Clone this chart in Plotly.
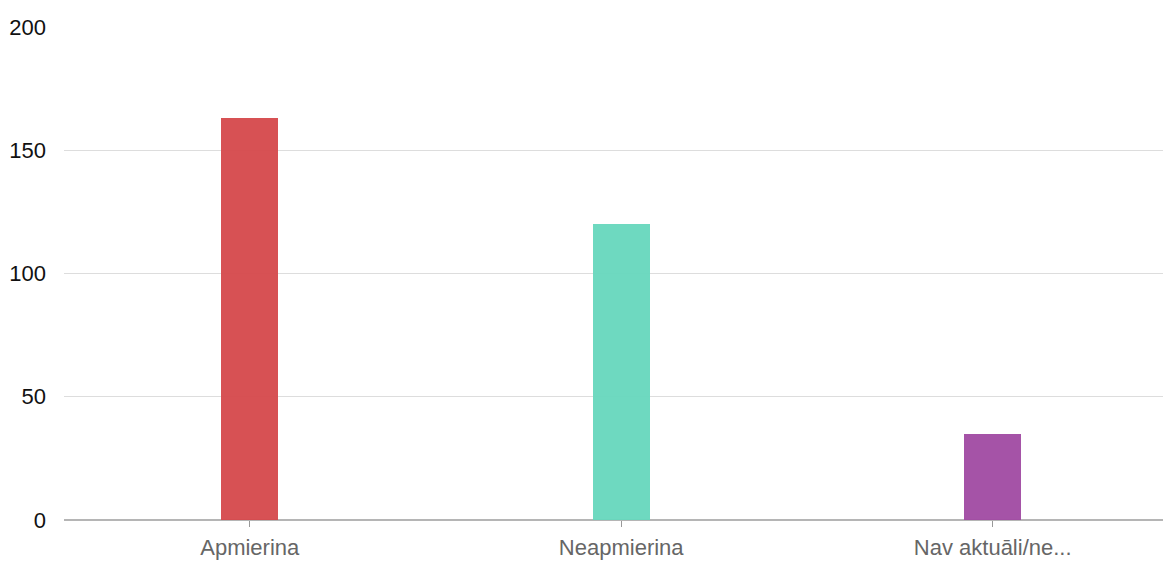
import plotly.graph_objects as go

categories = ["Apmierina", "Neapmierina", "Nav aktuāli/ne..."]
values = [163, 120, 35]
colors = ["#d5484b", "#66d7bd", "#a04aa2"]
y_ticks = [0, 50, 100, 150, 200]

FONT = "Liberation Sans, Arial, sans-serif"

fig = go.Figure()
fig.add_trace(go.Bar(
    x=list(range(len(categories))),
    y=values,
    marker=dict(color=colors, line=dict(width=0)),
    opacity=0.95,
    width=0.153,
))

fig.update_layout(
    width=1163, height=556,
    margin=dict(l=56, r=0, t=19, b=44, autoexpand=False),
    paper_bgcolor="white", plot_bgcolor="white",
    showlegend=False,
    bargap=0,
    font=dict(family=FONT, size=22),
    xaxis=dict(
        range=[-0.5, 2.48],
        tickvals=list(range(len(categories))),
        ticktext=categories,
        showgrid=False,
        ticks="outside", ticklen=6, tickcolor="#999999", tickwidth=1,
        tickfont=dict(color="#666666", size=22, family=FONT),
        ticklabelstandoff=2,
        showline=False, zeroline=False,
        automargin=False,
    ),
    yaxis=dict(
        range=[0, 200],
        tickvals=y_ticks,
        showgrid=True, gridcolor="#dddddd", gridwidth=1,
        zeroline=True, zerolinecolor="#b5b5b5", zerolinewidth=1.5,
        tickfont=dict(color="#111111", size=22, family=FONT),
        ticklabelstandoff=17,
        showline=False,
        automargin=False,
    ),
)
fig.write_html("out.html")
